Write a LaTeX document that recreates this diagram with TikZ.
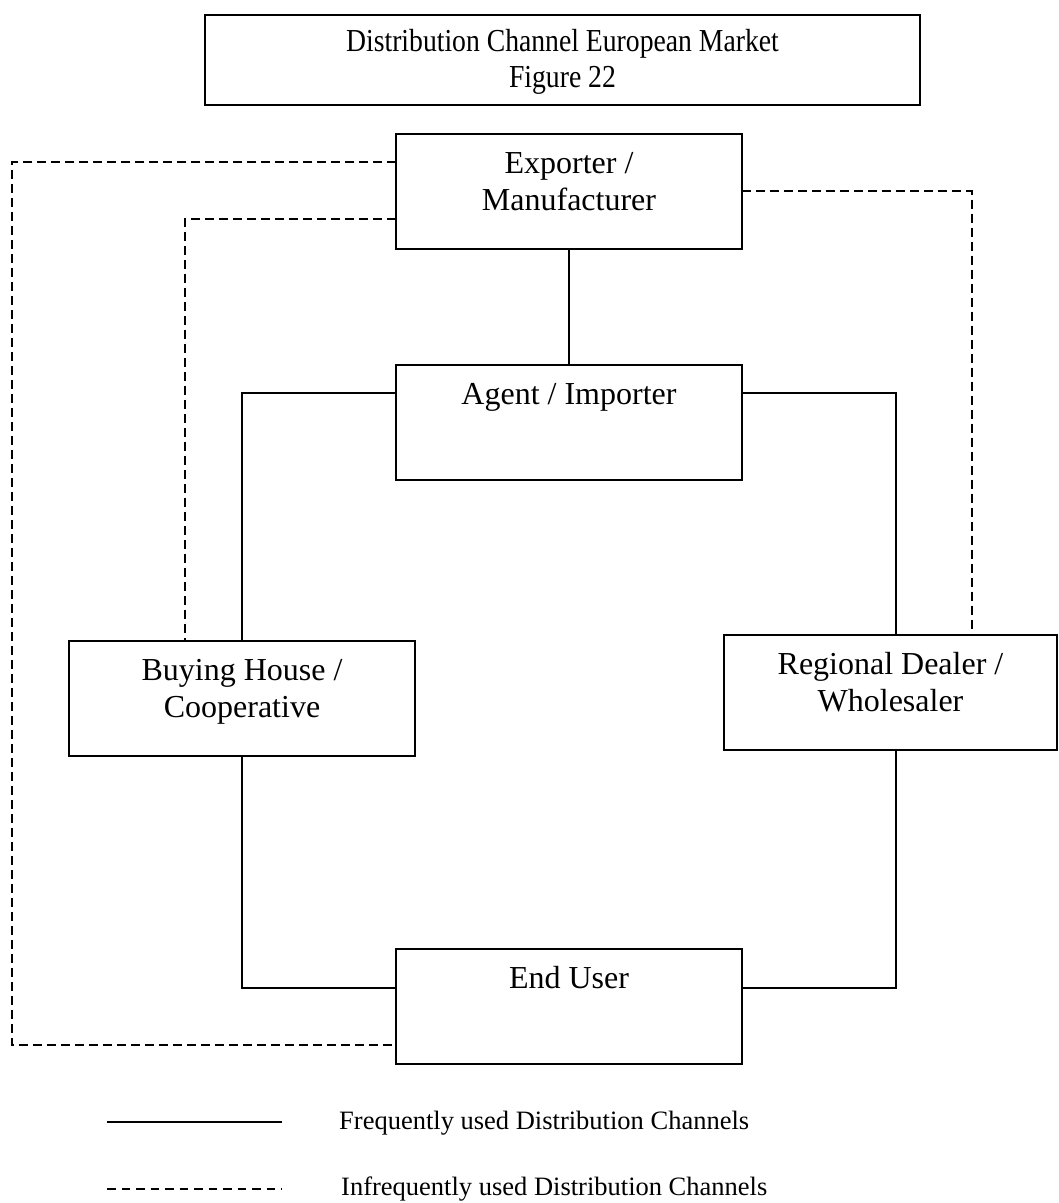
\documentclass[tikz,border=0pt]{standalone}
\usepackage{fontspec}
\usepackage{graphicx}
\setmainfont{Liberation Serif}
\usetikzlibrary{calc}

% box contents: fixed-size parbox, text hung from the top edge
\newcommand{\boxlines}[3]{\parbox[t][#2][t]{#1}{\centering\fontsize{32}{37}\selectfont\rule{0pt}{39pt}#3}}
% condensed title lettering
\newcommand{\narrow}[1]{\scalebox{0.865}[1]{#1}}

\begin{document}
\begin{tikzpicture}[x=1pt,y=-1pt,
  box/.style={draw, line width=2pt, inner sep=0pt, outer sep=0pt, anchor=north west},
  solidline/.style={line width=2pt},
  dashline/.style={line width=2pt, dash pattern=on 9pt off 5pt},
  legendline/.style={line width=2.6pt},
  legenddash/.style={line width=2pt, dash pattern=on 8.5pt off 6pt},
  legendtext/.style={inner sep=0pt, anchor=base west, font=\fontsize{26.5}{32}\selectfont}]

\fill[white] (0,0) rectangle (1059,1203);
\useasboundingbox (0,0) rectangle (1059,1203);

% title
\node[box] (title) at (205,15)
  {\parbox[t][90pt][t]{715pt}{\centering\fontsize{32}{36}\selectfont\rule{0pt}{36pt}\narrow{Distribution Channel European Market}\\\narrow{Figure 22}}};

% channel members
\node[box] (exp)   at (396,134) {\boxlines{346pt}{115pt}{Exporter /\\Manufacturer}};
\node[box] (agent) at (396,365) {\boxlines{346pt}{115pt}{Agent / Importer}};
\node[box] (buy)   at (69,641)  {\boxlines{346pt}{115pt}{Buying House /\\Cooperative}};
\node[box] (reg)   at (724,635) {\boxlines{333pt}{115pt}{Regional Dealer /\\Wholesaler}};
\node[box] (end)   at (396,949) {\boxlines{346pt}{115pt}{End User}};

% frequently used channels
\draw[solidline] (exp.south) -- (agent.north);
\draw[solidline] ($(agent.north west)+(0,28)$) -| (buy.north);
\draw[solidline] ($(agent.north east)+(0,28)$) -| ($(reg.north)+(5,0)$);
\draw[solidline] (buy.south) |- ($(end.north west)+(0,39)$);
\draw[solidline] ($(reg.south)+(5,0)$) |- ($(end.north east)+(0,39)$);

% infrequently used channels
\draw[dashline] ($(exp.north west)+(0,28)$) -- +(-384,0) |- ($(end.north west)+(0,96)$);
\draw[dashline] ($(exp.north west)+(0,85)$) -| ($(buy.north)+(-57,0)$);
\draw[dashline] ($(exp.north east)+(0,57)$) -| ($(reg.north)+(81,0)$);

% legend
\coordinate (fa) at (107,1122);
\coordinate (fb) at (282,1122);
\coordinate (ia) at (107,1189);
\coordinate (ib) at (282,1189);
\draw[legendline] (fa) -- (fb);
\draw[legenddash] (ia) -- (ib);
\node[legendtext] (ftext) at (339,1129) {Frequently used Distribution Channels};
\node[legendtext] (itext) at (341,1195) {Infrequently used Distribution Channels};

\end{tikzpicture}
\end{document}
